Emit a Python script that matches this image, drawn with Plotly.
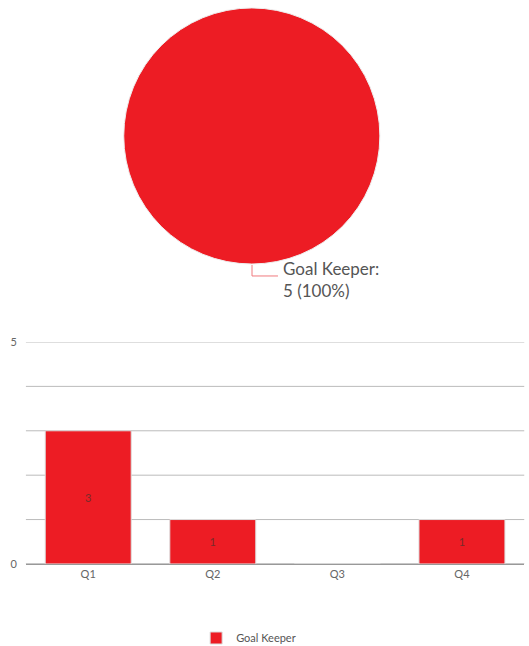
import plotly.graph_objects as go

# pie data
pie_labels = ['Goal Keeper']
pie_values = [5]

# bar data
quarters = ['Q1', 'Q2', 'Q3', 'Q4']
gk_counts = [3, 1, 0, 1]

red = '#ED1C24'
font_family = 'Lato, Noto Sans, sans-serif'

fig = go.Figure()

fig.add_trace(go.Pie(
    labels=pie_labels, values=pie_values,
    domain=dict(x=[0.234, 0.718], y=[0.591, 0.988]),
    marker=dict(colors=[red], line=dict(color='#eeeeee', width=1)),
    textinfo='none',
    sort=False, showlegend=False, hoverinfo='label+value+percent',
))

# pie label with elbow leader line
pct = 100 * pie_values[0] / sum(pie_values)
fig.add_annotation(
    xref='paper', yref='paper', x=0.531, y=0.568, xanchor='left', yanchor='middle',
    align='left', showarrow=False,
    text=f'{pie_labels[0]}:<br>{pie_values[0]} ({pct:.0f}%)',
    font=dict(size=17, color='#555555', family=font_family),
)
fig.add_shape(type='path', xref='paper', yref='paper',
              path='M 0.4764 0.5898 L 0.4764 0.5728 L 0.5255 0.5728',
              line=dict(color='#f07a7e', width=1))

fig.add_trace(go.Bar(
    x=quarters, y=gk_counts, name='Goal Keeper',
    marker=dict(color=red, line=dict(color='#dddddd', width=1)),
    text=[str(v) if v else '' for v in gk_counts],
    textposition='inside', insidetextanchor='middle',
    textfont=dict(size=11, color='#7a2a2a', family=font_family),
    xaxis='x', yaxis='y',
))

fig.update_layout(
    width=529, height=646,
    margin=dict(l=0, r=0, t=0, b=0, autoexpand=False),
    paper_bgcolor='white', plot_bgcolor='white',
    font=dict(family=font_family, color='#666666', size=11),
    bargap=0.31,
    xaxis=dict(domain=[0.049, 0.991], showgrid=False, showline=True, automargin=False,
               linecolor='#999999', linewidth=1, ticks='',
               tickfont=dict(size=11, color='#666666')),
    yaxis=dict(domain=[0.127, 0.4706], range=[0, 5], tickvals=[0, 5], automargin=False,
               showgrid=False, zeroline=False, ticks='', ticklabelstandoff=8,
               tickfont=dict(size=11, color='#666666')),
    showlegend=True,
    legend=dict(orientation='h', x=0.47, xanchor='center', y=0.0124, yanchor='middle',
                font=dict(size=11, color='#555555')),
)

# horizontal gridlines at every integer
for v in range(0, 6):
    fig.add_hline(y=v, line=dict(color='#bbbbbb' if v else '#999999', width=1), layer='below')

fig.write_html('out.html', config={'displayModeBar': False},
               post_script="document.body.style.margin='0';")
